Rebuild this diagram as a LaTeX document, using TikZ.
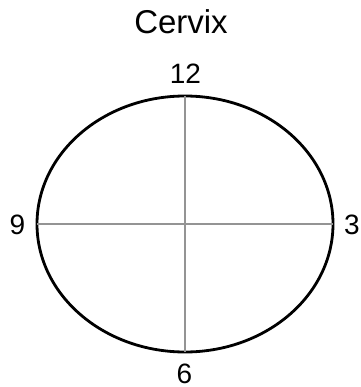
\documentclass[tikz,border=0pt]{standalone}
\usepackage{fontspec}
\setmainfont{Liberation Sans}
\usetikzlibrary{shapes.geometric}
\begin{document}
\begin{tikzpicture}[x=1pt,y=-1pt,
  rim/.style={ellipse,draw=black,line width=2.8pt,minimum width=296pt,minimum height=256pt,inner sep=0pt,outer sep=0pt},
  axisline/.style={draw=black!42,line width=2.6pt},
  lbl/.style={inner sep=0pt,font=\fontsize{28}{32}\selectfont},
  ttl/.style={inner sep=0pt,font=\fontsize{33}{38}\selectfont}]
\useasboundingbox (0,0) rectangle (360,387);
\node[rim] (e) at (185,224) {};
\draw[axisline] (e.north) -- (e.south);
\draw[axisline] (e.west) -- (e.east);
\node[ttl] (title) at (181,22) {Cervix};
\node[lbl] (n12) at (185.5,74) {12};
\node[lbl] (n9) at (17.5,225) {9};
\node[lbl] (n3) at (352,225) {3};
\node[lbl] (n6) at (184.5,374) {6};
\end{tikzpicture}
\end{document}
